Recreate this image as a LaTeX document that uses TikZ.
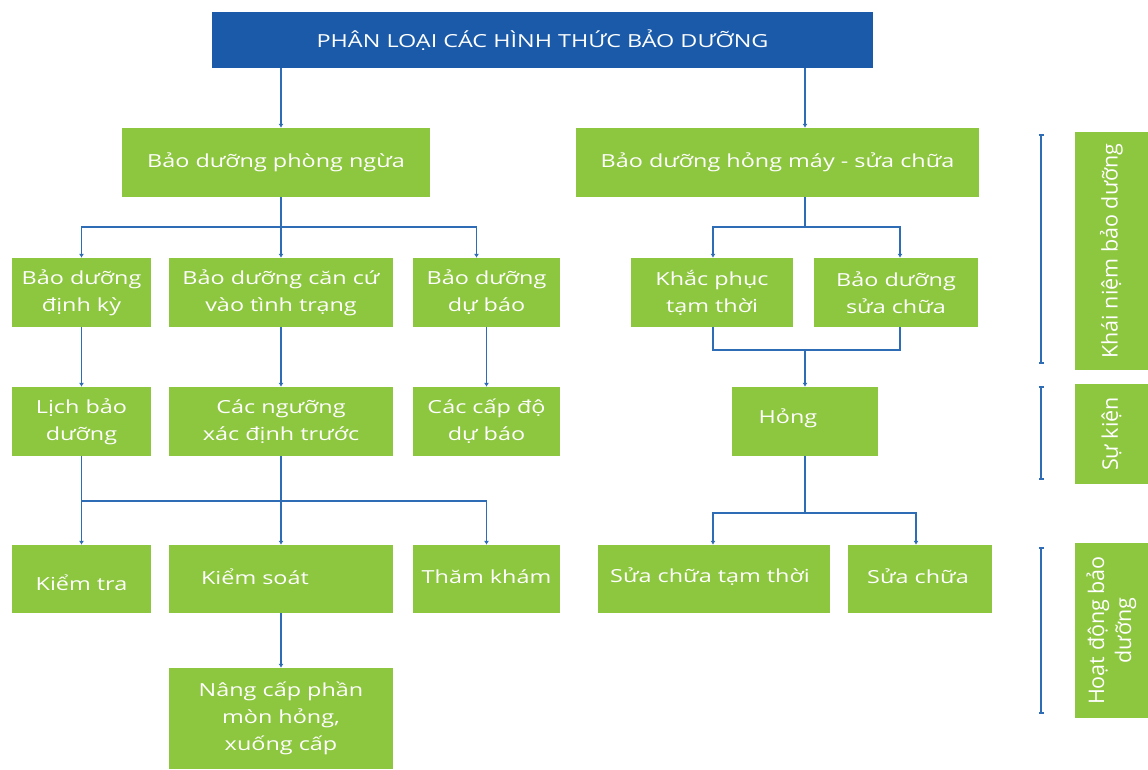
\documentclass[tikz,border=0pt]{standalone}
\usepackage{fontspec}
\setmainfont{Open Sans}[FakeStretch=1.3]
\newfontfamily\sidefont{Open Sans}
\usetikzlibrary{arrows.meta}
\definecolor{leaf}{HTML}{8DC63F}
\definecolor{navy}{HTML}{1A5AA8}
\definecolor{wire}{HTML}{2E6CB5}

\begin{document}
\begin{tikzpicture}[x=1pt,y=-1pt,
  box/.style={fill=leaf, text=white, align=center, inner sep=0pt,
    font=\fontsize{18}{27}\selectfont},
  lbl/.style={text=white, inner sep=0pt, font=\fontsize{18}{27}\selectfont},
  titlebox/.style={fill=navy, text=white, inner sep=0pt,
    font=\fontsize{18}{27}\selectfont},
  side/.style={fill=leaf, text=white, align=center, inner sep=0pt, rotate=90,
    font=\sidefont\fontsize{21.5}{27}\selectfont},
  link/.style={draw=wire, line width=1.8pt, -{Latex[length=4pt,width=5pt]}},
  plain/.style={draw=wire, line width=1.8pt},
  span/.style={draw=wire, line width=2pt, {Bar[width=5pt]}-{Bar[width=5pt]}}
]
\useasboundingbox (0,0) rectangle (1148,769);

% title
\node[titlebox, minimum width=661, minimum height=56] (title) at (542.5,40)
  {PHÂN LOẠI CÁC HÌNH THỨC BẢO DƯỠNG};

% first level
\node[box, minimum width=308, minimum height=69] (P1) at (276,162.5) {Bảo dưỡng phòng ngừa};
\node[box, minimum width=403, minimum height=69] (P2) at (777.5,162.5) {Bảo dưỡng hỏng máy - sửa chữa};

% second level
\node[box, minimum width=139, minimum height=69] (A1) at (81.5,292.5) {Bảo dưỡng\\định kỳ};
\node[box, minimum width=224, minimum height=69] (A2) at (281,292.5) {Bảo dưỡng căn cứ\\vào tình trạng};
\node[box, minimum width=147, minimum height=69] (A3) at (486.5,292.5) {Bảo dưỡng\\dự báo};
\node[box, minimum width=162, minimum height=69] (B1) at (712,292.5) {Khắc phục\\tạm thời};
\node[box, minimum width=164, minimum height=69] (B2) at (896,292.5) {Bảo dưỡng\\sửa chữa};

% third level
\node[box, minimum width=139, minimum height=69] (C1) at (81.5,421.5) {Lịch bảo\\dưỡng};
\node[box, minimum width=224, minimum height=69] (C2) at (281,421.5) {Các ngưỡng\\xác định trước};
\node[box, minimum width=147, minimum height=69] (C3) at (486.5,421.5) {Các cấp độ\\dự báo};
\node[box, minimum width=146, minimum height=69,
  label={[lbl, xshift=-17pt, yshift=3pt]center:Hỏng}] (H1) at (805,421.5) {};

% fourth level
\node[box, minimum width=139, minimum height=68,
  label={[lbl, yshift=-4pt]center:Kiểm tra}] (D1) at (81.5,579) {};
\node[box, minimum width=224, minimum height=68,
  label={[lbl, xshift=-26pt, yshift=2pt]center:Kiểm soát}] (D2) at (281,579) {};
\node[box, minimum width=147, minimum height=68,
  label={[lbl, yshift=2pt]center:Thăm khám}] (D3) at (486.5,579) {};
\node[box, minimum width=232, minimum height=68,
  label={[lbl, xshift=-4pt, yshift=2pt]center:Sửa chữa tạm thời}] (E1) at (714,579) {};
\node[box, minimum width=144, minimum height=68,
  label={[lbl, xshift=-2pt, yshift=3pt]center:Sửa chữa}] (E2) at (920,579) {};

% fifth level
\node[box, minimum width=224, minimum height=101] (N1) at (281,718.5)
  {Nâng cấp phần\\mòn hỏng,\\xuống cấp};

% side labels (rotated: east is the top end, west the bottom end)
\node[side, minimum width=238, minimum height=73] (S1) at (1111.5,251) {Khái niệm bảo dưỡng};
\node[side, minimum width=100, minimum height=73] (S2) at (1111.5,434) {Sự kiện};
\node[side, minimum width=175, minimum height=73] (S3) at (1111.5,630.5) {Hoạt động bảo\\dưỡng};

% spans beside the side labels
\coordinate (sx) at (1041,0);
\draw[span] ([yshift=-2pt]S1.east -| sx) -- ([yshift=6pt]S1.west -| sx);
\draw[span] ([yshift=-2pt]S2.east -| sx) -- ([yshift=4pt]S2.west -| sx);
\draw[span] ([yshift=-4pt]S3.east -| sx) -- ([yshift=4pt]S3.west -| sx);

% title to first level
\draw[link] (title.south -| A2) -- (P1.north -| A2);
\draw[link] (title.south -| H1) -- (P2.north -| H1);

% preventive branch
\coordinate (jp) at (281,227);
\draw[plain] (P1.south -| A2) -- (jp);
\draw[link] (jp) -| (A1.north);
\draw[link] (jp) -- (A2.north);
\draw[link] (jp) -| ([xshift=-10pt]A3.north);
\draw[link] (A1) -- (C1);
\draw[link] (A2) -- (C2);
\draw[link] (A3) -- (C3);

\coordinate (jc) at (281,501);
\draw[plain] (C1.south) -- (C1.south |- jc) -- (jc);
\draw[plain] (C2.south) -- (jc);
\draw[link] (C1.south |- jc) -- (D1.north);
\draw[link] (jc) -- (D2.north);
\draw[link] (jc) -| (D3.north);
\draw[link] (D2) -- (N1);

% breakdown branch
\coordinate (jb) at (805,227);
\draw[plain] (P2.south -| jb) -- (jb);
\draw[link] (jb) -| ([xshift=1pt]B1.north);
\draw[link] (jb) -| ([xshift=4pt]B2.north);
\coordinate (jh) at (805,350);
\draw[plain] ([xshift=1pt]B1.south) |- (jh);
\draw[plain] ([xshift=4pt]B2.south) |- (jh);
\draw[link] (jh) -- (H1.north);

\coordinate (je) at (805,513);
\draw[plain] (H1.south) -- (je);
\draw[link] (je) -| ([xshift=-1pt]E1.north);
\draw[link] (je) -| ([xshift=-4pt]E2.north);
\end{tikzpicture}
\end{document}
